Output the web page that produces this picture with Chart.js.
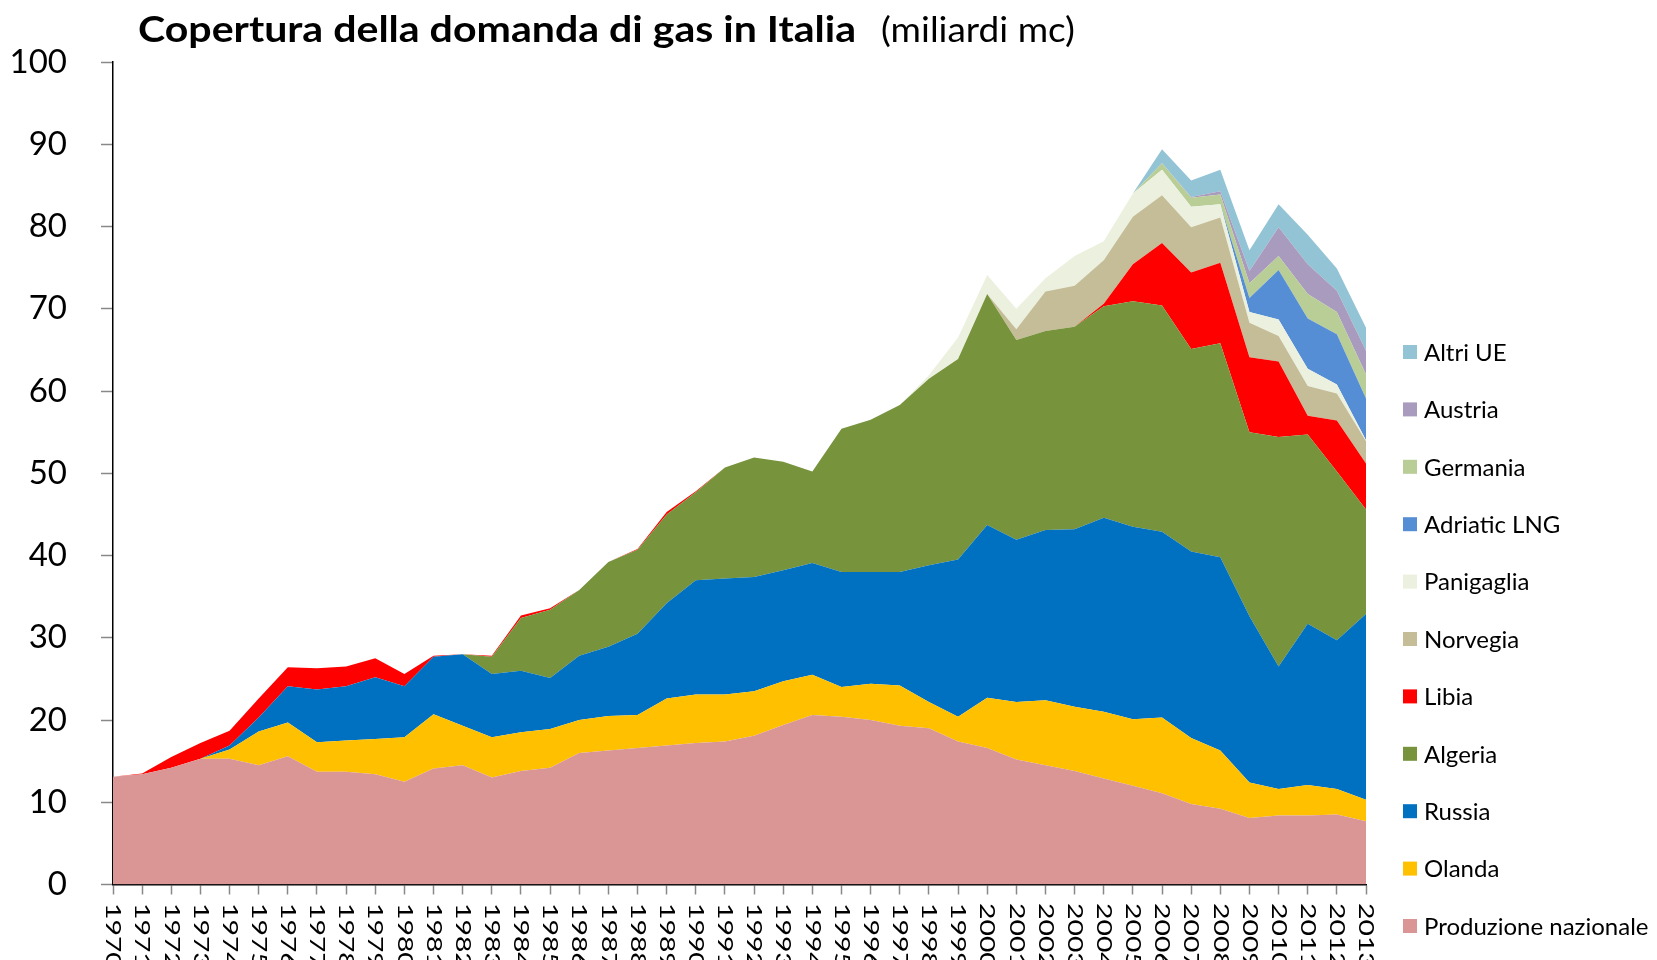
<!DOCTYPE html>
<html>
<head>
<meta charset="utf-8">
<script src="https://cdn.jsdelivr.net/npm/chart.js@4"></script>
<style>
  html, body { margin: 0; padding: 0; background: #fff; }
  #wrap { width: 1657px; height: 960px; }
</style>
</head>
<body>
<div id="wrap"><canvas id="chart" width="1657" height="960"></canvas></div>
<script>
// Anni (categorie)
const anni = ['1970','1971','1972','1973','1974','1975','1976','1977','1978','1979',
              '1980','1981','1982','1983','1984','1985','1986','1987','1988','1989',
              '1990','1991','1992','1993','1994','1995','1996','1997','1998','1999',
              '2000','2001','2002','2003','2004','2005','2006','2007','2008','2009',
              '2010','2011','2012','2013'];

// Serie in miliardi di mc
const produzione = [13.1,13.4,14.2,15.3,15.3,14.5,15.6,13.7,13.7,13.4,
                    12.5,14.1,14.5,13.0,13.8,14.2,16.0,16.3,16.6,16.9,
                    17.2,17.4,18.1,19.4,20.6,20.4,20.0,19.3,19.0,17.4,
                    16.6,15.2,14.5,13.8,12.9,12.0,11.1,9.8,9.2,8.1,
                    8.4,8.4,8.5,7.7];
const olanda = [0,0,0,0,1.1,4.1,4.1,3.6,3.8,4.3,
                5.4,6.6,4.8,4.9,4.7,4.7,4.0,4.2,4.0,5.7,
                5.9,5.7,5.4,5.3,4.9,3.6,4.4,4.9,3.2,3.0,
                6.1,7.0,7.9,7.8,8.1,8.1,9.2,8.0,7.1,4.3,
                3.2,3.7,3.1,2.6];
const russia = [0,0,0,0,0.5,1.7,4.4,6.4,6.6,7.5,
                6.2,7.0,8.7,7.7,7.5,6.2,7.8,8.4,9.9,11.6,
                13.9,14.1,13.9,13.5,13.6,14.0,13.6,13.8,16.6,19.1,
                21.0,19.7,20.7,21.6,23.6,23.4,22.6,22.7,23.5,20.2,
                14.9,19.6,18.1,22.6];
const algeria = [0,0,0,0,0,0,0,0,0,0,
                 0,0,0,2.1,6.4,8.3,8.0,10.3,10.2,10.8,
                 10.7,13.5,14.5,13.2,11.1,17.4,18.5,20.3,22.7,24.4,
                 28.1,24.3,24.2,24.6,25.7,27.4,27.5,24.6,26.0,22.4,
                 27.9,23.0,20.5,12.7];
const libia = [0,0.1,1.3,1.9,1.8,2.3,2.3,2.6,2.4,2.3,
               1.5,0.1,0,0.1,0.3,0.2,0,0,0.1,0.3,
               0.1,0,0,0,0,0,0,0,0,0,
               0,0,0,0,0.3,4.5,7.6,9.3,9.8,9.1,
               9.2,2.3,6.2,5.6];
const norvegia = [0,0,0,0,0,0,0,0,0,0,
                  0,0,0,0,0,0,0,0,0,0,
                  0,0,0,0,0,0,0,0,0,0,
                  0,1.3,4.8,5.0,5.3,5.8,5.8,5.5,5.5,4.2,
                  3.1,3.6,3.3,2.7];
const panigaglia = [0,0,0,0,0,0,0,0,0,0,
                    0,0,0,0,0,0,0,0,0,0,
                    0,0,0,0,0,0,0,0,0.4,2.6,
                    2.3,2.5,1.6,3.6,2.3,2.8,3.1,2.5,1.6,1.3,
                    2.0,2.1,1.1,0.1];
const adriatic = [0,0,0,0,0,0,0,0,0,0,
                  0,0,0,0,0,0,0,0,0,0,
                  0,0,0,0,0,0,0,0,0,0,
                  0,0,0,0,0,0,0,0,0,1.7,
                  6.0,6.1,6.1,5.1];
const germania = [0,0,0,0,0,0,0,0,0,0,
                  0,0,0,0,0,0,0,0,0,0,
                  0,0,0,0,0,0,0,0,0,0,
                  0,0,0,0,0,0,0.8,1.1,1.2,1.8,
                  1.7,3.0,2.7,2.9];
const austria = [0,0,0,0,0,0,0,0,0,0,
                 0,0,0,0,0,0,0,0,0,0,
                 0,0,0,0,0,0,0,0,0,0,
                 0,0,0,0,0,0,0,0.1,0.4,1.5,
                 3.5,3.6,2.6,2.9];
const altriUE = [0,0,0,0,0,0,0,0,0,0,
                 0,0,0,0,0,0,0,0,0,0,
                 0,0,0,0,0,0,0,0,0,0,
                 0,0,0,0,0,0,1.7,2.0,2.6,2.5,
                 2.8,3.6,2.7,2.8];

const yTicks = [0,10,20,30,40,50,60,70,80,90,100];

const FONT = 'Lato, "Open Sans", sans-serif';

// strati dal basso verso l'alto
const strati = [
  { label: 'Produzione nazionale', data: produzione, color: '#D99694' },
  { label: 'Olanda',               data: olanda,     color: '#FFC000' },
  { label: 'Russia',               data: russia,     color: '#0070C0' },
  { label: 'Algeria',              data: algeria,    color: '#77933C' },
  { label: 'Libia',                data: libia,      color: '#FF0000' },
  { label: 'Norvegia',             data: norvegia,   color: '#C4BD97' },
  { label: 'Panigaglia',           data: panigaglia, color: '#EBF1DE' },
  { label: 'Adriatic LNG',         data: adriatic,   color: '#558ED5' },
  { label: 'Germania',             data: germania,   color: '#B9CD96' },
  { label: 'Austria',              data: austria,    color: '#A99BBD' },
  { label: 'Altri UE',             data: altriUE,    color: '#93C4D6' }
];

const datasets = strati.map((s, i) => ({
  label: s.label,
  data: s.data,
  backgroundColor: s.color,
  borderColor: s.color,
  borderWidth: 0,
  pointRadius: 0,
  fill: i === 0 ? 'origin' : '-1',
  tension: 0
}));

// testo allargato in orizzontale fino a una larghezza data
function fillStretched(ctx, text, x, y, targetWidth) {
  const w = ctx.measureText(text).width;
  ctx.save();
  ctx.translate(x, y);
  ctx.scale(targetWidth / w, 1);
  ctx.fillText(text, 0, 0);
  ctx.restore();
}

// titolo, etichette ruotate e legenda disegnati a mano
const decorPlugin = {
  id: 'decor',
  afterDraw(chart) {
    const { ctx, scales } = chart;
    ctx.save();
    ctx.fillStyle = '#000';

    // titolo
    ctx.textBaseline = 'alphabetic';
    ctx.textAlign = 'left';
    ctx.font = 'bold 36px ' + FONT;
    fillStretched(ctx, 'Copertura della domanda di gas in Italia', 138, 42, 718);
    ctx.font = '34px ' + FONT;
    fillStretched(ctx, '(miliardi mc)', 881, 42, 194);

    // anni ruotati (lettura dall'alto in basso)
    ctx.font = '21px ' + FONT;
    ctx.textBaseline = 'middle';
    anni.forEach((a, i) => {
      const x = scales.x.getPixelForValue(i);
      ctx.save();
      ctx.translate(x, 903);
      ctx.rotate(Math.PI / 2);
      ctx.scale(1.35, 1);
      ctx.fillText(a, 0, 0);
      ctx.restore();
    });

    // legenda (ordine inverso)
    ctx.font = '24px ' + FONT;
    const voci = strati.slice().reverse();
    voci.forEach((s, k) => {
      const y = 352 + k * 57.4;
      ctx.fillStyle = s.color;
      ctx.fillRect(1403, y - 7, 14, 14);
      ctx.fillStyle = '#000';
      ctx.fillText(s.label, 1424, y + 1);
    });
    ctx.restore();
  }
};

new Chart(document.getElementById('chart'), {
  type: 'line',
  data: { labels: anni, datasets: datasets },
  plugins: [decorPlugin],
  options: {
    responsive: false,
    animation: false,
    devicePixelRatio: 1,
    layout: { padding: { top: 62, right: 291, bottom: 0, left: 0 } },
    elements: { line: { borderWidth: 0 } },
    scales: {
      x: {
        type: 'category',
        offset: false,
        z: 1,
        grid: { drawOnChartArea: false, drawTicks: true, tickLength: 10, tickColor: '#888', tickWidth: 1.5 },
        border: { display: true, color: '#000', width: 1.5 },
        ticks: { display: false, autoSkip: false },
        afterFit(scale) { scale.height = 75.5; }
      },
      y: {
        stacked: true,
        min: 0,
        max: 100,
        z: 1,
        afterBuildTicks(scale) { scale.ticks = yTicks.map(v => ({ value: v })); },
        grid: { drawOnChartArea: false, drawTicks: true, tickLength: 12, tickColor: '#888', tickWidth: 1.5 },
        border: { display: true, color: '#000', width: 1.5 },
        ticks: { color: '#000', padding: 34, font: { family: FONT, size: 33 } },
        afterFit(scale) { scale.width = 113; }
      }
    },
    plugins: {
      legend: { display: false },
      title: { display: false },
      tooltip: { enabled: false }
    }
  }
});
</script>
</body>
</html>
